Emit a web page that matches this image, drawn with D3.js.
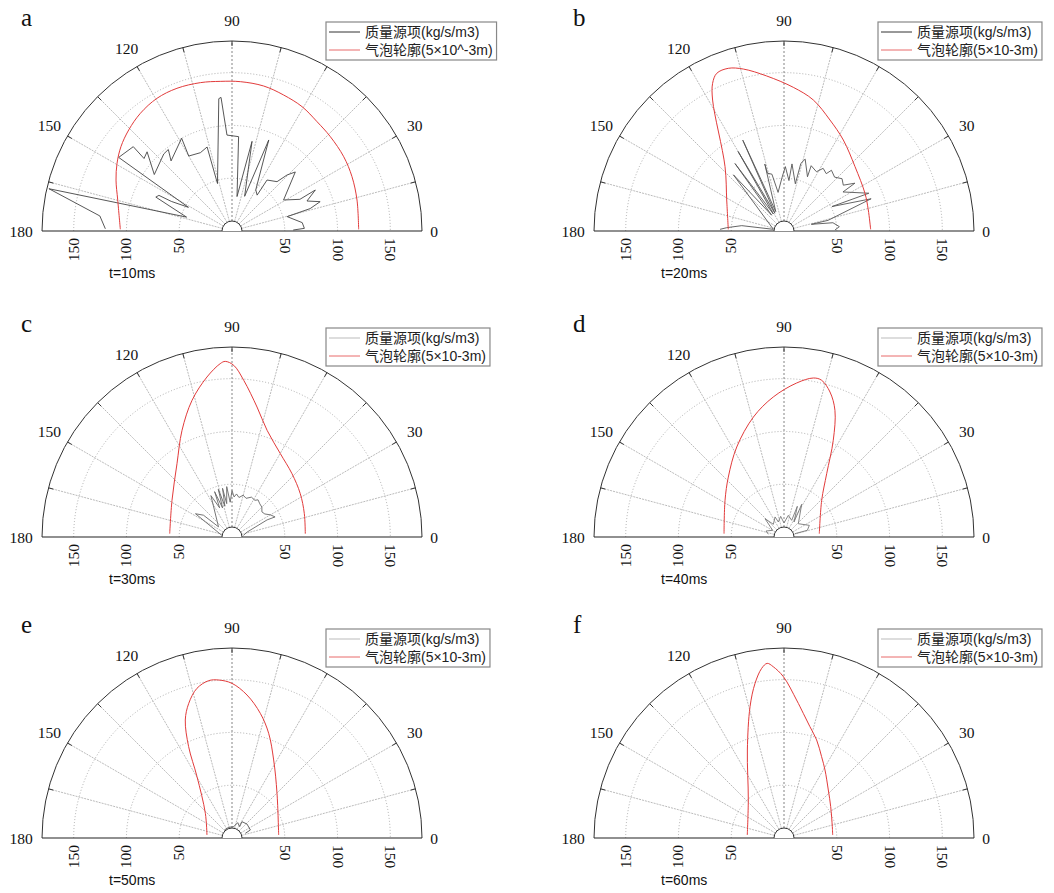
<!DOCTYPE html>
<html>
<head>
<meta charset="utf-8">
<script src="https://cdn.jsdelivr.net/npm/d3@7"></script>
<style>
  body { margin: 0; background: #fff; }
  .ang { font-family: "Liberation Serif", "Times New Roman", serif; font-size: 15.5px; fill: #111; }
  .letter { font-family: "Liberation Serif", "Times New Roman", serif; font-size: 25px; fill: #111; }
  .tlab { font-family: "Liberation Sans", Arial, sans-serif; font-size: 14px; fill: #111; }
  .leg { font-family: "Liberation Sans", Arial, "Noto Sans CJK SC", sans-serif; font-size: 14px; fill: #222; }
</style>
</head>
<body>
<script>

// ---- data (angle in degrees, radius in plot units) ----
var angleTicks = [0, 30, 60, 90, 120, 150, 180];
var radialTicks = [50, 100, 150];
var panelLetters = ['a', 'b', 'c', 'd', 'e', 'f'];
var timeLabels = ['t=10ms', 't=20ms', 't=30ms', 't=40ms', 't=50ms', 't=60ms'];
var massLabel = '质量源项(kg/s/m3)';
var bubbleLabels = ['气泡轮廓(5×10^-3m)', '气泡轮廓(5×10-3m)', '气泡轮廓(5×10-3m)',
                    '气泡轮廓(5×10-3m)', '气泡轮廓(5×10-3m)', '气泡轮廓(5×10-3m)'];

var bubbleA = [[179.1,105.8],[164.8,112.2],[156.3,120],[149.5,126.4],[142.8,132.1],[135.6,136.9],
  [127.9,141.3],[119.5,144.4],[111.1,144.9],[102,143.7],[94.5,142.2],[86.8,141.7],[77.7,140.6],
  [69.2,137.8],[60.6,135.2],[52.1,131.2],[43.8,129.1],[33.6,127.1],[24.4,124.8],[13.9,122],[0.75,120]];
var massA = [[179,120],[173.5,126],[167,178],[163,45],[156,79],[154,77],[154,64],[151.5,47],
  [147,128],[139.5,123],[140.5,108],[137,110],[144,91],[131.5,97.5],[128,98],[131,88],[118.5,100],
  [120,82],[112,80],[106.5,83],[107,47],[95.7,126],[94.7,127],[93,91],[86,89.6],[81.7,33],[77.4,87],
  [70,35],[68,93],[60,45],[55,41.5],[55.5,58.6],[47.6,63.3],[45.5,74.4],[43,82],[31,57],[25,71],
  [26.2,88],[21.8,76.5],[18.4,88],[16,77],[14.6,54],[6.8,67],[2.1,68.6],[0.9,58]];

var bubbleB = [[178.3,52.8],[151.6,61.7],[132.5,82.7],[118.6,141.3],[115.8,155.4],[113.1,162.4],
  [108.9,162.9],[104.1,158.2],[96.4,147.8],[86.3,136.4],[77.4,127.2],[67.5,113.8],[56.9,102.9],
  [42.2,90.8],[24.9,84.6],[14,82.3],[1.1,82.1]];
var massB = [[178.5,60.6],[176.7,54.4],[172.8,40.4],[171,10.2],[132,71.6],[128,19],[126,79],[122,19],
  [120,87],[117,19],[114.4,94.5],[113,20],[106,66],[106,57],[102,55],[98.7,37],[92,51],[88.8,61],
  [84.4,48],[83.2,64],[76.5,46],[76,66],[73.6,71],[66.6,56],[67.4,67],[61.3,64],[58,70],[53.6,67.5],
  [52,73],[46.8,70],[42,74],[37.7,71],[34,81],[33.5,67],[24,88],[27,51],[20.3,88],[13.6,43],
  [13.7,26.7],[9.6,47],[4.5,52.6],[1.1,48.3]];

var bubbleC = [[176.9,59.1],[148.6,66.6],[126.9,86.8],[115.1,111.6],[106.3,134.9],[98.9,153.4],
  [93.9,164.6],[92.2,166.5],[89.4,162.6],[85.7,148.8],[79.1,125.4],[71.8,106.4],[59.9,91.3],
  [46.5,82.6],[32.4,76.6],[17.9,72],[2.6,69.5]];
var massC = [[170,10],[147.5,41],[142.6,34],[143,16],[117,44],[113,30],[111,46],[108,29],[106,47],
  [103,30],[101,47],[99,32],[96,48],[93,33],[90,44],[87,38],[84,41],[80,38],[75,41],[70,39],[64,42],
  [58,41],[55,43],[50,41],[45,40],[40,37],[35,38],[30,42],[25,45],[26,37],[18,15],[8,11]];

var bubbleD = [[176.8,56.9],[148.1,65.8],[132.9,77.5],[117.7,96.3],[104.3,117.3],[94.4,133],
  [85.3,146.4],[79.5,153.2],[76.5,152.7],[72.4,144.1],[68.1,129.4],[63,102.8],[56,72.3],
  [44.2,49.8],[5.4,33.6]];
var massD = [[170,15],[161.6,18],[149.5,12.5],[136,25],[130,15.7],[114,20.8],[110.7,15.2],[99.2,19.8],
  [90,13.3],[78.7,20.9],[65.3,17.4],[66.5,31.7],[56.3,17.1],[61.6,35.2],[42.9,18.5],[24.7,26.4],
  [16,23],[16.9,10.9]];

var bubbleE = [[173.2,23.9],[137.2,34.4],[119.7,66.9],[115.4,95.8],[111.6,120.2],[107.8,134],
  [103.2,145.6],[98.4,150.7],[94.8,150.2],[90,146.5],[84,136.2],[77.2,121.1],[70.7,105.1],
  [61.9,83.8],[44.8,60.1],[3.7,44.3]];
var massE = [[133.8,10.5],[107,10.6],[81.6,10.8],[69.7,15.5],[56,13],[58.5,18.1],[43,19.4],
  [23.6,19],[19.3,13.4]];

var bubbleF = [[175.3,34.9],[133.2,49.4],[112.6,90.3],[104.5,128.5],[100.6,149.1],[97.5,162.1],
  [95.5,166.2],[93.6,162.6],[90.2,152.8],[84.8,131.3],[81.2,119.5],[76.9,108.3],[71.6,97.9],
  [65.2,84.9],[58.9,75.2],[47.3,61.9],[33.9,53.3],[13.2,47],[3.5,46.2]];
var massF = [];

var bubbles = [bubbleA, bubbleB, bubbleC, bubbleD, bubbleE, bubbleF];
var masses = [massA, massB, massC, massD, massE, massF];

// ---- layout ----
var width = 1054, height = 893;
var R = 190, holeR = 10;
var centers = [[232, 231], [784, 231], [232, 537], [784, 537], [232, 838], [784, 838]];
var massColors = ['#444', '#555', '#666', '#777', '#555', '#777'];
var massLegendColors = ['#333', '#333', '#bbb', '#bbb', '#bbb', '#bbb'];

var r = d3.scaleLinear().domain([0, 180]).range([0, R]);
var ang = d3.scaleLinear().domain([0, 90]).range([Math.PI / 2, 0]);

function pt(t, rad) {
  var a = t * Math.PI / 180;
  return [rad * Math.cos(a), -rad * Math.sin(a)];
}

var line = d3.lineRadial()
  .angle(function(d) { return ang(d[0]); })
  .radius(function(d) { return r(d[1]); });

var svg = d3.select('body').append('svg')
  .attr('width', width)
  .attr('height', height);

centers.forEach(function(c, i) {
  var g = svg.append('g').attr('transform', 'translate(' + c[0] + ',' + c[1] + ')');

  // dotted range circles
  radialTicks.forEach(function(v) {
    var rr = r(v);
    g.append('path')
      .attr('d', 'M' + (-rr) + ',0 A' + rr + ',' + rr + ' 0 0 1 ' + rr + ',0')
      .attr('fill', 'none')
      .attr('stroke', '#999')
      .attr('stroke-width', 0.8)
      .attr('stroke-dasharray', '1,2');
  });

  // spokes every 15 deg
  d3.range(15, 180, 15).forEach(function(t) {
    var p0 = pt(t, holeR), p1 = pt(t, R);
    g.append('line')
      .attr('x1', p0[0]).attr('y1', p0[1])
      .attr('x2', p1[0]).attr('y2', p1[1])
      .attr('stroke', t === 90 ? '#666' : '#aaa')
      .attr('stroke-width', 0.8)
      .attr('stroke-dasharray', t === 90 ? '2,2' : '2,1');
    var q0 = pt(t, R - 5);
    g.append('line')
      .attr('x1', q0[0]).attr('y1', q0[1])
      .attr('x2', p1[0]).attr('y2', p1[1])
      .attr('stroke', '#333')
      .attr('stroke-width', 1);
  });

  // outer arc and base line
  g.append('path')
    .attr('d', 'M' + (-R) + ',0 A' + R + ',' + R + ' 0 0 1 ' + R + ',0')
    .attr('fill', 'none')
    .attr('stroke', '#333')
    .attr('stroke-width', 1);
  g.append('line')
    .attr('x1', -R).attr('x2', R).attr('y1', 0).attr('y2', 0)
    .attr('stroke', '#222')
    .attr('stroke-width', 1.2);
  g.append('path')
    .attr('d', 'M' + (-holeR) + ',0 A' + holeR + ',' + holeR + ' 0 0 1 ' + holeR + ',0')
    .attr('fill', '#fff')
    .attr('stroke', '#333')
    .attr('stroke-width', 1);

  // angle labels
  angleTicks.forEach(function(t) {
    var rad = t === 0 ? 202 : 211;
    var p = pt(t, rad);
    g.append('text')
      .attr('class', 'ang')
      .attr('x', p[0]).attr('y', p[1])
      .attr('text-anchor', 'middle')
      .attr('dominant-baseline', 'central')
      .text(t);
  });

  // radial labels, rotated
  radialTicks.forEach(function(v) {
    g.append('text')
      .attr('class', 'ang')
      .attr('transform', 'translate(' + (-r(v) + 5) + ',7) rotate(-90)')
      .attr('text-anchor', 'end')
      .text(v);
    g.append('text')
      .attr('class', 'ang')
      .attr('transform', 'translate(' + (r(v) - 5) + ',7) rotate(90)')
      .attr('text-anchor', 'start')
      .text(v);
  });

  // curves
  if (masses[i].length) {
    g.append('path')
      .attr('d', line(masses[i]))
      .attr('fill', 'none')
      .attr('stroke', massColors[i])
      .attr('stroke-width', 0.9)
      .attr('stroke-linejoin', 'round');
  }
  g.append('path')
    .attr('d', line.curve(d3.curveCatmullRom)(bubbles[i]))
    .attr('fill', 'none')
    .attr('stroke', '#e23b3b')
    .attr('stroke-width', 1);
  line.curve(d3.curveLinear);

  // panel letter and time
  g.append('text')
    .attr('class', 'letter')
    .attr('x', -211).attr('y', -205)
    .text(panelLetters[i]);
  g.append('text')
    .attr('class', 'tlab')
    .attr('x', -123).attr('y', 47)
    .text(timeLabels[i]);

  // legend
  var lg = g.append('g').attr('transform', 'translate(94,-209)');
  var box = lg.append('rect')
    .attr('fill', '#fff')
    .attr('stroke', '#888')
    .attr('stroke-width', 1.2);
  lg.append('line')
    .attr('x1', 3).attr('x2', 34).attr('y1', 10).attr('y2', 10)
    .attr('stroke', massLegendColors[i]).attr('stroke-width', 1);
  lg.append('line')
    .attr('x1', 3).attr('x2', 34).attr('y1', 28).attr('y2', 28)
    .attr('stroke', '#e86a6a').attr('stroke-width', 1);
  var t1 = lg.append('text').attr('class', 'leg')
    .attr('x', 39).attr('y', 10).attr('dominant-baseline', 'central').text(massLabel);
  var t2 = lg.append('text').attr('class', 'leg')
    .attr('x', 39).attr('y', 28).attr('dominant-baseline', 'central').text(bubbleLabels[i]);
  var w = Math.max(t1.node().getComputedTextLength(), t2.node().getComputedTextLength());
  box.attr('x', 0).attr('y', 0).attr('width', 39 + w + 4).attr('height', 38);
});

</script>
</body>
</html>
